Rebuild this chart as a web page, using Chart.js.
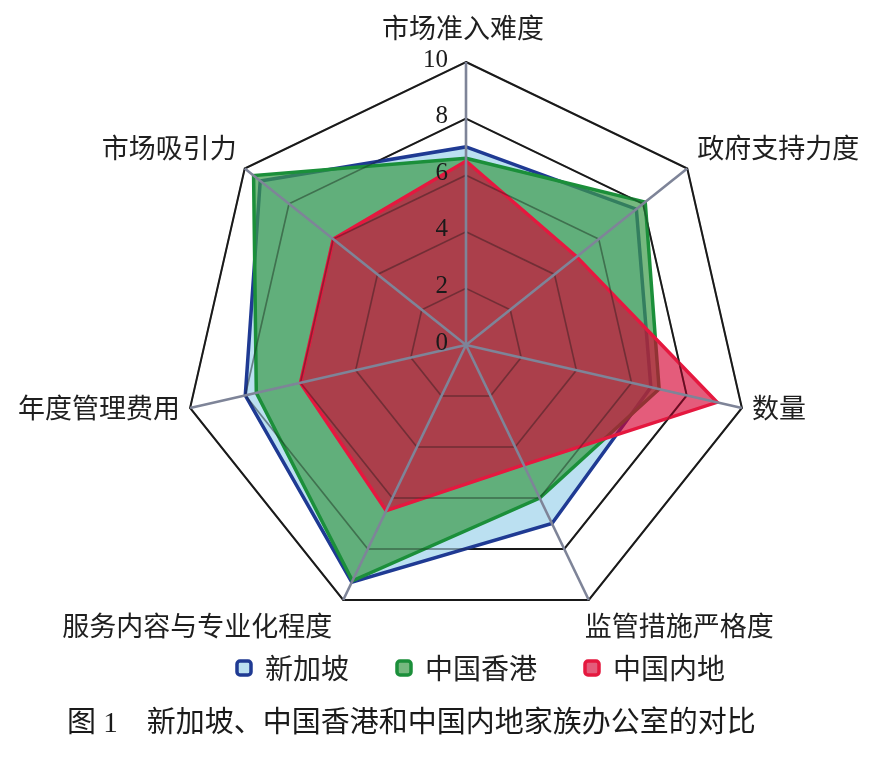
<!DOCTYPE html>
<html>
<head>
<meta charset="utf-8">
<script src="https://cdn.jsdelivr.net/npm/chart.js@4.4.1/dist/chart.umd.min.js"></script>
<style>
  html, body { margin: 0; padding: 0; background: #ffffff; }
  #wrap { position: relative; width: 888px; height: 769px; }
  #cap { position: absolute; left: 67px; top: 702px; font-family: "Liberation Serif", "Noto Sans CJK SC", serif; font-size: 29px; color: #1a1a1a; white-space: nowrap; line-height: 40px; }
</style>
</head>
<body>
<div id="wrap">
  <canvas id="c" width="888" height="769"></canvas>
  <div id="cap">图 1　新加坡、中国香港和中国内地家族办公室的对比</div>
</div>
<script>
const categories = ['市场准入难度', '政府支持力度', '数量', '监管措施严格度', '服务内容与专业化程度', '年度管理费用', '市场吸引力'];
const seriesNames = ['新加坡', '中国香港', '中国内地'];
const singapore = [7.0, 7.7, 6.7, 7.0, 9.3, 8.0, 9.3];
const hongkong  = [6.6, 8.1, 7.0, 6.0, 9.25, 7.6, 9.6];
const mainland  = [6.5, 5.0, 9.1, 4.7, 6.5, 6.0, 6.0];
const tickValues = [0, 2, 4, 6, 8, 10];

// label placement style relative to outer vertex
const labelStyle = [
  { dx: -3, dy: -34, align: 'center' },
  { dx: 10, dy: -21, align: 'left' },
  { dx: 10, dy: 0, align: 'left' },
  { dx: -4, dy: 26, align: 'left' },
  { dx: -11, dy: 26, align: 'right' },
  { dx: -10, dy: 0, align: 'right' },
  { dx: -8, dy: -21, align: 'right' }
];

const overlay = {
  id: 'overlay',
  afterLayout(chart) {
    const lg = chart.legend;
    if (lg) {
      lg.left += 15; lg.right += 15;
      lg.top -= 22; lg.bottom -= 22;
    }
  },
  afterDatasetsDraw(chart) {
    const s = chart.scales.r;
    const ctx = chart.ctx;
    ctx.save();
    // translucent rings showing through the fills
    ctx.strokeStyle = 'rgba(25,25,25,0.38)';
    ctx.lineWidth = 1.6;
    tickValues.forEach(v => {
      if (v === 0) return;
      const d = s.getDistanceFromCenterForValue(v);
      ctx.beginPath();
      for (let i = 0; i < categories.length; i++) {
        const p = s.getPointPosition(i, d);
        if (i === 0) ctx.moveTo(p.x, p.y); else ctx.lineTo(p.x, p.y);
      }
      ctx.closePath();
      ctx.stroke();
    });
    ctx.strokeStyle = '#7e8498';
    ctx.lineWidth = 2.6;
    for (let i = 0; i < categories.length; i++) {
      const p = s.getPointPosition(i, s.drawingArea);
      ctx.beginPath();
      ctx.moveTo(s.xCenter, s.yCenter);
      ctx.lineTo(p.x, p.y);
      ctx.stroke();
    }
    ctx.font = '25px "Liberation Serif"';
    ctx.fillStyle = '#1a1a1a';
    ctx.textAlign = 'right';
    ctx.textBaseline = 'middle';
    tickValues.forEach(v => {
      const d = s.getDistanceFromCenterForValue(v);
      ctx.fillText(String(v), s.xCenter - 18, s.yCenter - d - 2);
    });
    ctx.font = '27px "Noto Sans CJK SC"';
    ctx.fillStyle = '#1f1f1f';
    categories.forEach((name, i) => {
      const p = s.getPointPosition(i, s.drawingArea);
      const st = labelStyle[i];
      ctx.textAlign = st.align;
      ctx.fillText(name, p.x + st.dx, p.y + st.dy);
    });
    ctx.restore();
  }
};

new Chart(document.getElementById('c'), {
  type: 'radar',
  data: {
    labels: categories,
    datasets: [
      {
        label: seriesNames[0],
        data: singapore,
        backgroundColor: 'rgba(175,218,238,0.85)',
        borderColor: '#1f3a93',
        borderWidth: 3.5,
        fill: true,
        order: 3
      },
      {
        label: seriesNames[1],
        data: hongkong,
        backgroundColor: 'rgba(60,155,72,0.7)',
        borderColor: '#1b8f3a',
        borderWidth: 3.5,
        fill: true,
        order: 2
      },
      {
        label: seriesNames[2],
        data: mainland,
        backgroundColor: 'rgba(212,0,48,0.64)',
        borderColor: '#e5183f',
        borderWidth: 3.5,
        fill: true,
        order: 1
      }
    ]
  },
  options: {
    responsive: false,
    animation: false,
    devicePixelRatio: 1,
    layout: { padding: { top: 62, left: 44, right: 0, bottom: 55 } },
    elements: {
      line: { tension: 0, borderJoinStyle: 'miter' },
      point: { radius: 0, hoverRadius: 0 }
    },
    scales: {
      r: {
        min: 0,
        max: 10,
        ticks: { stepSize: 2, display: false },
        grid: { color: '#1a1a1a', lineWidth: 2 },
        angleLines: { display: false },
        pointLabels: { display: false }
      }
    },
    plugins: {
      tooltip: { enabled: false },
      legend: {
        position: 'bottom',
        labels: {
          sort: (a, b) => a.datasetIndex - b.datasetIndex,
          boxWidth: 14,
          boxHeight: 14,
          useBorderRadius: true,
          borderRadius: 3,
          padding: 48,
          color: '#222',
          font: { family: '"Noto Sans CJK SC"', size: 28 }
        }
      }
    }
  },
  plugins: [overlay]
});
</script>
</body>
</html>
